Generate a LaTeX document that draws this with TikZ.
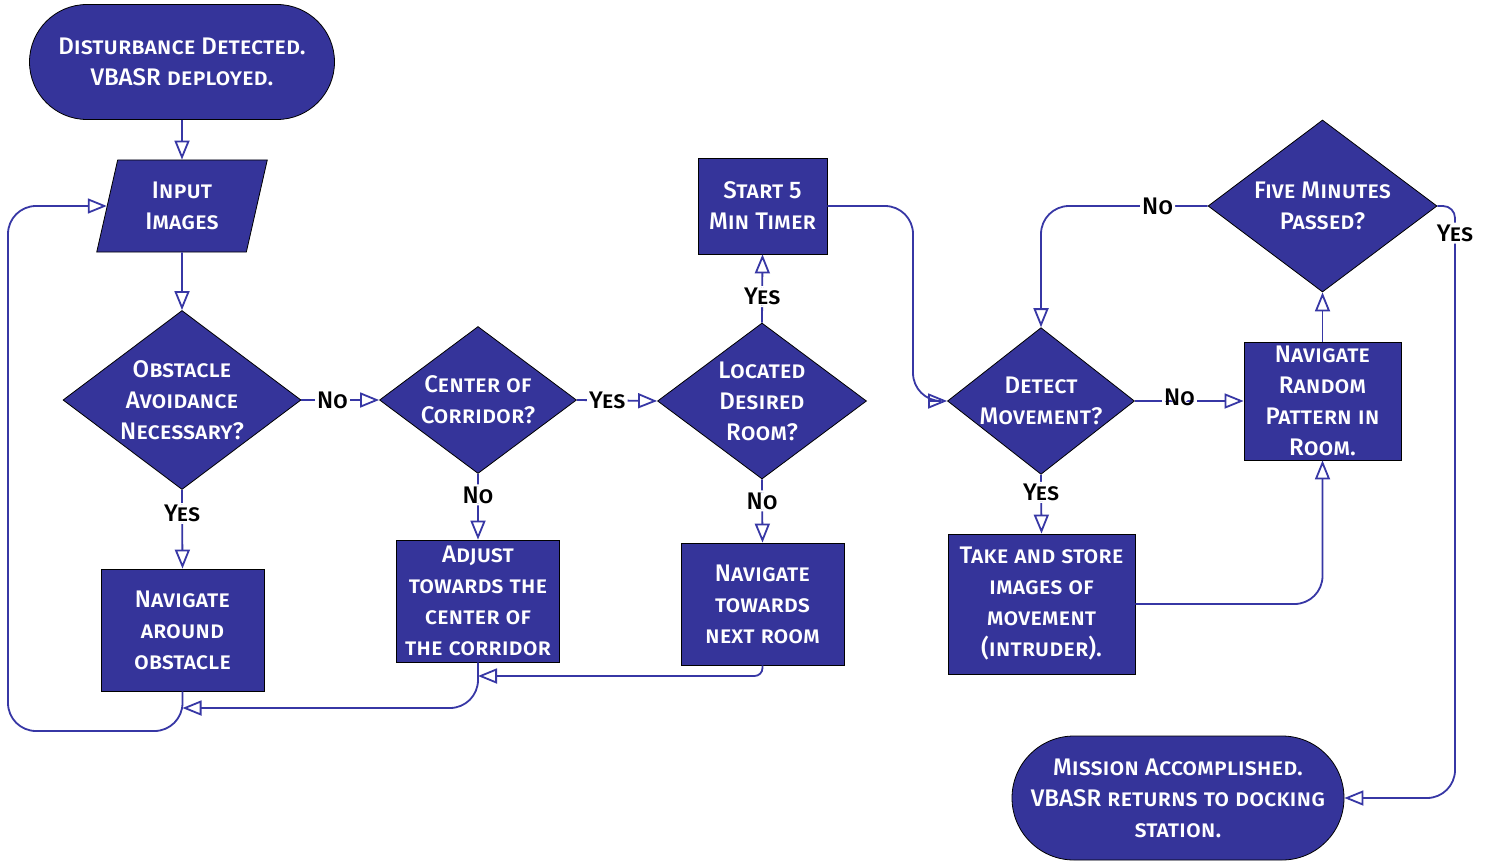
\documentclass[tikz,border=0pt]{standalone}
\usepackage{fontspec}
\setmainfont{Fira Sans Medium}
\usetikzlibrary{shapes.geometric, arrows.meta}
\definecolor{boxblue}{RGB}{53,52,154}
\definecolor{lineblue}{RGB}{55,55,165}

\begin{document}
\begin{tikzpicture}[x=0.5pt, y=-0.5pt,
    every node/.style={font=\fontsize{12}{15.5}\selectfont\scshape, align=center},
    shaped/.style={draw=black, line width=0.4pt, fill=boxblue, text=white, inner sep=0pt},
    terminal/.style={shaped, rectangle, rounded corners=#1},
    process/.style={shaped, rectangle},
    inout/.style={shaped, trapezium, trapezium left angle=76, trapezium right angle=104, trapezium stretches=true},
    decision/.style={shaped, diamond, inner sep=-3pt},
    flow/.style={draw=lineblue, line width=0.9pt, rounded corners=14pt, -{Triangle[open, length=9.5pt, width=7.5pt]}},
    answer/.style={fill=white, text=black, inner sep=1pt}]

    \useasboundingbox (0,0) rectangle (1486,861);

    % start and input
    \node[terminal=28.75pt, minimum width=152.5pt, minimum height=57.5pt] (start) at (182,62) {Disturbance Detected.\\VBASR deployed.};
    \node[inout, minimum width=85.5pt, minimum height=46pt] (input) at (182,206) {Input\\Images};

    % decisions along the corridor
    \node[decision, minimum width=119pt, minimum height=88.5pt] (obstacle) at (182,400) {Obstacle\\Avoidance\\Necessary?};
    \node[decision, minimum width=98.5pt, minimum height=73.5pt] (center) at (478,400) {Center of\\Corridor?};
    \node[decision, minimum width=104.5pt, minimum height=78pt] (located) at (762,401) {Located\\Desired\\Room?};

    % actions below
    \node[process, minimum width=81.5pt, minimum height=61pt] (around) at (182.5,630) {Navigate\\around\\obstacle};
    \node[process, minimum width=81.5pt, minimum height=61pt] (adjust) at (478,601) {Adjust\\towards the\\center of\\the corridor};
    \node[process, minimum width=81.5pt, minimum height=61pt] (nextroom) at (762.5,604) {Navigate\\towards\\next room};
    \node[process, minimum width=64.5pt, minimum height=48pt] (timer) at (762.5,206) {Start 5\\Min Timer};

    % room search
    \node[decision, minimum width=93.5pt, minimum height=69pt] (movement) at (1041,401) {Detect\\Movement?};
    \node[process, minimum width=93.5pt, minimum height=70pt] (store) at (1041.5,604) {Take and store\\images of\\movement\\(intruder).};
    \node[process, minimum width=78.5pt, minimum height=59pt] (random) at (1322.5,401) {Navigate\\Random\\Pattern in\\Room.};
    \node[decision, minimum width=114.5pt, minimum height=86pt] (fivemin) at (1322.5,206) {Five Minutes\\Passed?};
    \node[terminal=31pt, minimum width=166pt, minimum height=62pt] (mission) at (1178,798) {Mission Accomplished.\\VBASR returns to docking\\station.};

    % join points
    \coordinate (joinaround) at (182.5,708);
    \coordinate (joinadjust) at (478,676);

    % connectors
    \draw[flow] (start) -- (input);
    \draw[flow] (input) -- (obstacle);
    \draw[flow] (obstacle.east) -- node[answer, pos=0.4] {No} (center.west);
    \draw[flow] (obstacle.south) -- node[answer, pos=0.3] {Yes} (around.north);
    \draw[flow] (center.east) -- node[answer, pos=0.38] {Yes} (located.west);
    \draw[flow] (center.south) -- node[answer, pos=0.32] {No} (adjust.north);
    \draw[flow] (located.north) -- node[answer, pos=0.38] {Yes} (timer.south);
    \draw[flow] (located.south) -- node[answer, pos=0.34] {No} (nextroom.north);
    \draw[flow, rounded corners=4pt] (nextroom.south) |- (joinadjust);
    \draw[flow] (adjust.south) |- (joinaround);
    \draw[flow] (around.south) |- (8,731) |- (input.west);

    \draw[flow] (timer.east) -| (913,401) -- (movement.west);
    \draw[flow] (movement.east) -- node[answer, pos=0.41, yshift=2pt] {No} (random.west);
    \draw[flow] (movement.south) -- node[answer, pos=0.3] {Yes} (store.north);
    \draw[flow] (store.east) -| (random.south);
    \draw[flow] (random.north) -- (fivemin.south);
    \draw[flow] (fivemin.west) -| node[answer, pos=0.15] {No} (movement.north);
    \draw[flow, rounded corners=6pt] (fivemin.east) -| node[answer, pos=0.57] {Yes} (1455,400)
        [rounded corners=14pt] |- (mission.east);
\end{tikzpicture}
\end{document}
